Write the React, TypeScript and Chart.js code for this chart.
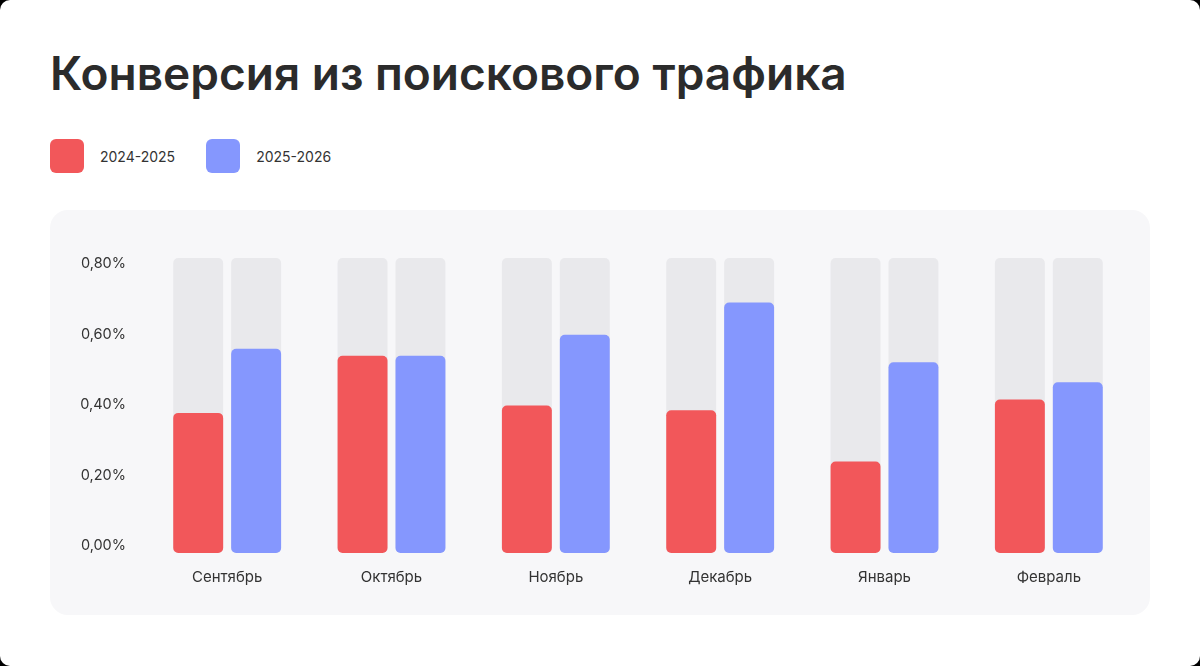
import { useEffect, useRef } from 'react';
import Chart from 'chart.js/auto';

// conversion from search traffic, %
const months = ['Сентябрь', 'Октябрь', 'Ноябрь', 'Декабрь', 'Январь', 'Февраль'];
const seriesNames = ['2024-2025', '2025-2026'];
const values2024 = [0.38, 0.535, 0.4, 0.387, 0.248, 0.416];
const values2025 = [0.554, 0.535, 0.592, 0.679, 0.517, 0.463];
const yTicks = [0, 0.2, 0.4, 0.6, 0.8];
const yMax = 0.8;

const colors = ['#f2575a', '#8597fe'];
const trackColor = '#e9e9ec';
const textColor = '#333333';
const font = 'Inter, "Noto Sans", sans-serif';

const fmt = (v: number) => v.toFixed(2).replace('.', ',') + '%';

const App = () => {
  const chartRef = useRef<HTMLCanvasElement | null>(null);
  const chartInstance = useRef<Chart | null>(null);

  useEffect(() => {
    if (!chartRef.current) return;
    const ctx = chartRef.current.getContext('2d');
    if (!ctx) return;
    if (chartInstance.current) chartInstance.current.destroy();

    const track = months.map(() => yMax);
    const bar = {
      borderRadius: 5,
      borderSkipped: false,
      categoryPercentage: 0.705,
      barPercentage: 0.862,
    };

    // the tick labels sit a little inside the bar tracks in the original
    const plotH = 295;
    const span = (yMax * plotH) / (plotH - 13);
    const labelMin = -(7 / plotH) * span;

    chartInstance.current = new Chart(ctx, {
      type: 'bar',
      data: {
        labels: months,
        datasets: [
          { label: seriesNames[0], data: values2024, backgroundColor: colors[0], stack: 'a', order: 1, ...bar },
          { label: seriesNames[1], data: values2025, backgroundColor: colors[1], stack: 'b', order: 1, ...bar },
          { label: 'track-a', data: track, backgroundColor: trackColor, stack: 'a', order: 2, ...bar },
          { label: 'track-b', data: track, backgroundColor: trackColor, stack: 'b', order: 2, ...bar },
        ],
      },
      options: {
        animation: false,
        responsive: false,
        layout: { padding: { left: 30, right: 19, top: 48, bottom: 0 } },
        plugins: { legend: { display: false }, tooltip: { enabled: false } },
        scales: {
          x: {
            grid: { display: false, drawTicks: false },
            border: { display: false },
            ticks: { color: textColor, font: { family: font, size: 15 }, padding: 15 },
            afterFit: (axis: any) => {
              axis.height = 62;
            },
          },
          y: {
            display: false,
            stacked: false,
            min: 0,
            max: yMax,
          },
          yLabels: {
            position: 'left',
            min: labelMin,
            max: labelMin + span,
            grid: { display: false, drawTicks: false },
            border: { display: false },
            afterBuildTicks: (axis: any) => {
              axis.ticks = yTicks.map((v) => ({ value: v }));
            },
            ticks: {
              color: textColor,
              font: { family: font, size: 14.5 },
              padding: 19,
              callback: (v: any) => fmt(Number(v)),
            },
            afterFit: (axis: any) => {
              axis.width = 65;
            },
          },
        },
      },
    } as any);

    return () => {
      if (chartInstance.current) {
        chartInstance.current.destroy();
        chartInstance.current = null;
      }
    };
  }, []);

  return (
    <div style={{ position: 'fixed', inset: 0, background: '#000' }}>
      <div
        style={{
          position: 'absolute',
          left: 0,
          top: 0,
          width: 1200,
          height: 666,
          background: '#fff',
          borderRadius: 10,
          fontFamily: font,
          color: textColor,
        }}
      >
        <div
          style={{
            position: 'absolute',
            left: 50,
            top: 45,
            fontSize: 46,
            fontWeight: 600,
            lineHeight: '56px',
            letterSpacing: 0,
            color: '#2b2b2b',
            whiteSpace: 'nowrap',
          }}
        >
          Конверсия из поискового трафика
        </div>
        <div style={{ position: 'absolute', left: 50, top: 139, display: 'flex', alignItems: 'center' }}>
          {seriesNames.map((name, i) => (
            <div key={name} style={{ display: 'flex', alignItems: 'center', marginRight: 31 }}>
              <div style={{ width: 34, height: 34, borderRadius: 6, background: colors[i] }} />
              <span style={{ marginLeft: 16, fontSize: 14, color: textColor }}>{name}</span>
            </div>
          ))}
        </div>
        <div
          style={{
            position: 'absolute',
            left: 50,
            top: 210,
            width: 1100,
            height: 405,
            background: '#f7f7f9',
            borderRadius: 18,
          }}
        >
          <canvas ref={chartRef} width={1100} height={405} style={{ display: 'block' }} />
        </div>
      </div>
    </div>
  );
};

export default App;
